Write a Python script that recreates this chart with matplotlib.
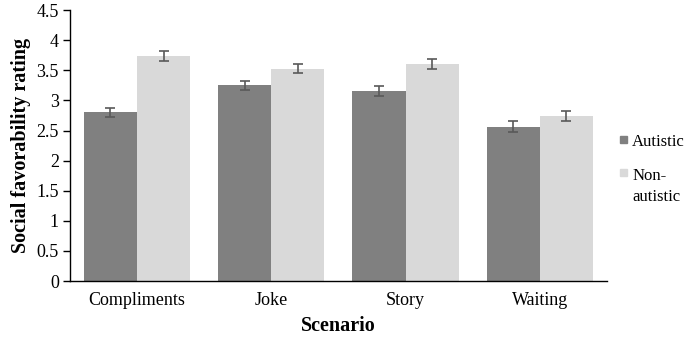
import numpy as np
from matplotlib import pyplot as plt
from matplotlib.patches import Rectangle

# data
scenarios = ['Compliments', 'Joke', 'Story', 'Waiting']
autistic = [2.80, 3.25, 3.16, 2.56]
autistic_err = [0.07, 0.07, 0.08, 0.09]
non_autistic = [3.74, 3.53, 3.61, 2.74]
non_autistic_err = [0.08, 0.08, 0.08, 0.09]
yticks = [0, 0.5, 1, 1.5, 2, 2.5, 3, 3.5, 4, 4.5]
ytick_labels = ['0', '0.5', '1', '1.5', '2', '2.5', '3', '3.5', '4', '4.5']
group_names = ['Autistic', 'Non-\nautistic']
group_colors = ['#808080', '#d9d9d9']

plt.rcParams['font.family'] = ['Liberation Serif', 'DejaVu Serif']

fig = plt.figure(figsize=(6.85, 3.37), dpi=100)
ax = fig.add_axes([0.102, 0.166, 0.784, 0.804])

x = np.arange(len(scenarios))
w = 0.395
err_kw = dict(ecolor='#595959', elinewidth=1.2, capsize=3.5, capthick=1.2)
ax.bar(x - w / 2, autistic, w, yerr=autistic_err, color=group_colors[0],
       error_kw=err_kw)
ax.bar(x + w / 2, non_autistic, w, yerr=non_autistic_err, color=group_colors[1],
       error_kw=err_kw)

ax.set_xlim(-0.5, 3.5)
ax.set_ylim(0, 4.5)
ax.set_yticks(yticks)
ax.set_yticklabels(ytick_labels, fontsize=13)
ax.set_xticks(x)
ax.set_xticklabels(scenarios, fontsize=13)
ax.tick_params(axis='x', length=0, pad=8)
ax.tick_params(axis='y', length=5, direction='out', width=1, pad=3)
ax.spines['top'].set_visible(False)
ax.spines['right'].set_visible(False)
ax.spines['left'].set_linewidth(1.0)
ax.spines['bottom'].set_linewidth(1.0)

ax.set_xlabel('Scenario', fontsize=14.5, fontweight='bold', labelpad=5)
ax.set_ylabel('Social favorability rating', fontsize=14.5, fontweight='bold', labelpad=4)

# legend drawn by hand so the square sits on the first line of "Non-\nautistic"
for yc, name, col in zip([0.524, 0.402], group_names, group_colors):
    ax.add_patch(Rectangle((1.024, yc - 0.013), 0.013, 0.026, color=col,
                           transform=ax.transAxes, clip_on=False))
    ax.text(1.047, yc + 0.017, name, transform=ax.transAxes, fontsize=12,
            va='top', ha='left', linespacing=1.45)

fig.savefig('out.png', dpi=100)
